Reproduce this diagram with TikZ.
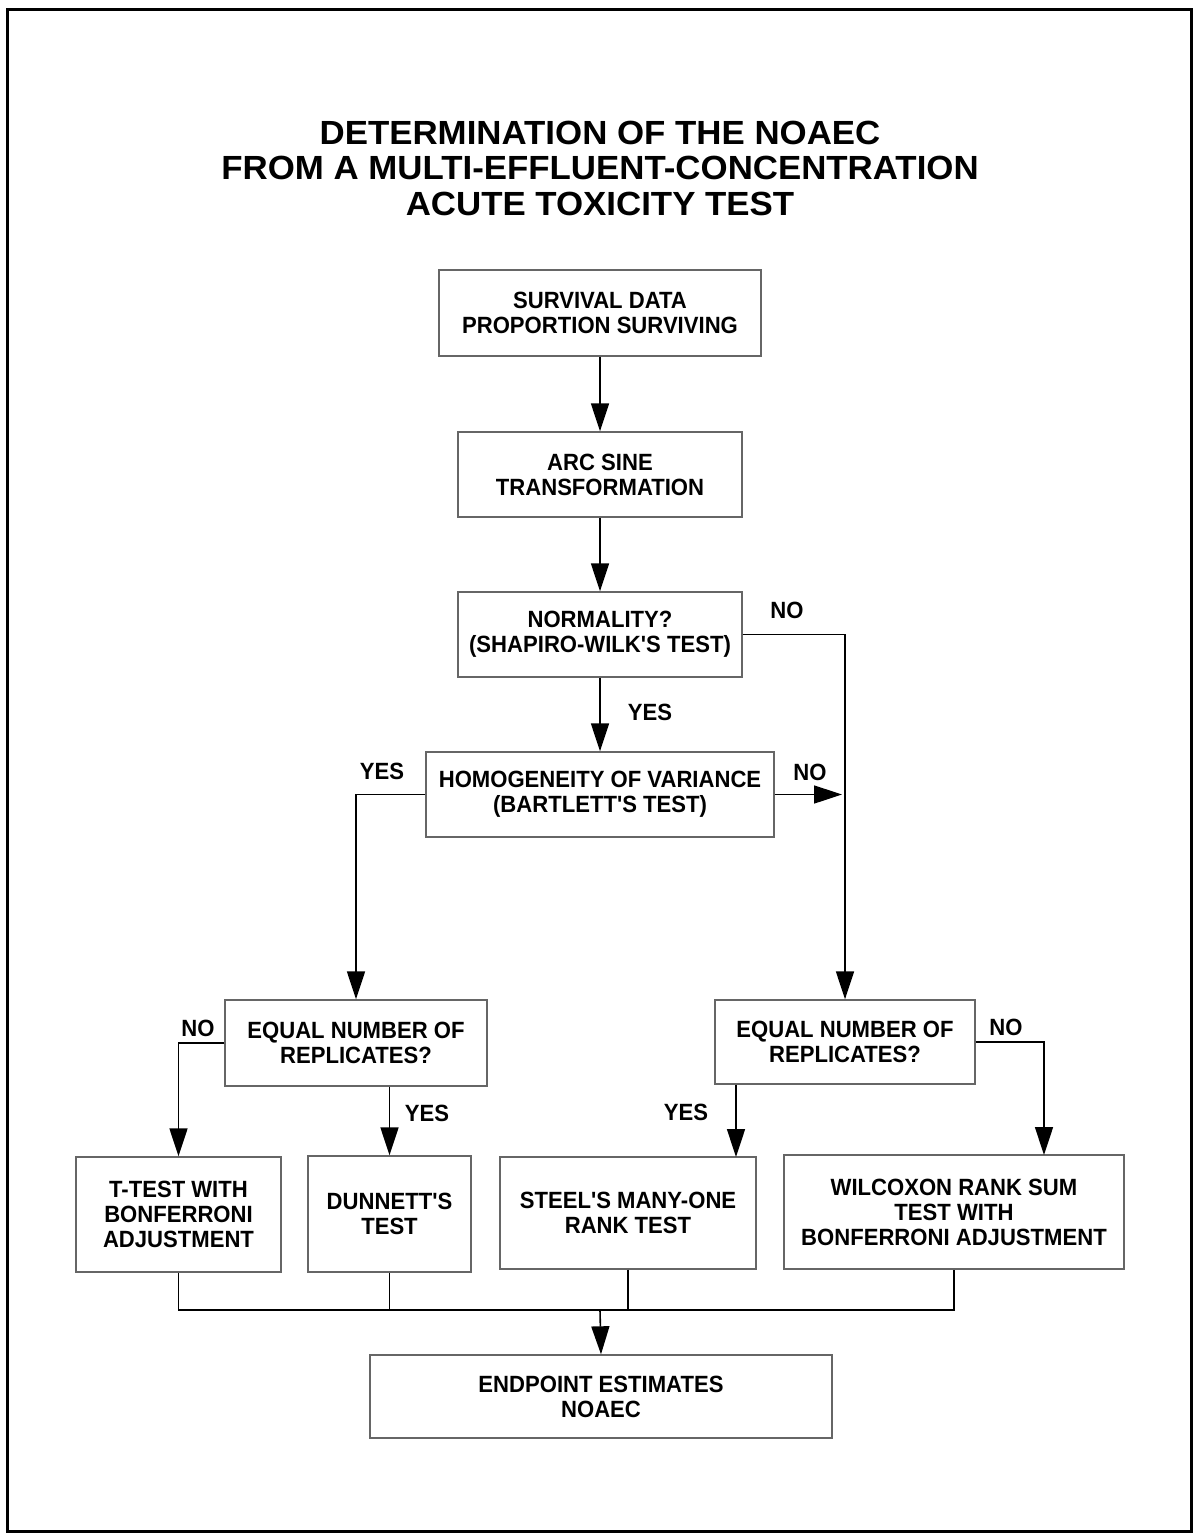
\documentclass[tikz,border=0pt]{standalone}
\usepackage{fontspec}
\newfontfamily\ttlfont{Liberation Sans Bold}[FakeStretch=1.04]
\newfontfamily\bxfont{Liberation Sans Bold}[FakeStretch=0.94]
\usetikzlibrary{arrows.meta}
\begin{document}
\begin{tikzpicture}[x=1pt,y=-1pt,
  every node/.style={inner sep=0pt},
  fbox/.style={draw=black!60, line width=1.4pt, align=center,
    font=\bxfont\fontsize{23.5}{25}\selectfont},
  lbl/.style={font=\bxfont\fontsize{23.5}{25}\selectfont},
  conn/.style={draw=black, line width=1.6pt},
  arr/.style={conn, -{Triangle[length=28pt,width=18pt]}},
  ttl/.style={align=center, font=\ttlfont\fontsize{33.5}{35.5}\selectfont}]
\useasboundingbox (0,0) rectangle (1193,1534);
\fill[white] (0,0) rectangle (1193,1534);
\draw[line width=3pt] (7,9) rectangle (1191,1531);

\node[ttl] (title) at (600,168) {DETERMINATION OF THE NOAEC\\FROM A MULTI-EFFLUENT-CONCENTRATION\\ACUTE TOXICITY TEST};

\node[fbox, minimum width=322pt, minimum height=86pt] (surv) at (600,313) {SURVIVAL DATA\\PROPORTION SURVIVING};
\node[fbox, minimum width=284pt, minimum height=85pt] (arc) at (600,474.5) {ARC SINE\\TRANSFORMATION};
\node[fbox, minimum width=284pt, minimum height=85pt] (norm) at (600,634.5) {NORMALITY?\\(SHAPIRO-WILK'S TEST)};
\node[fbox, minimum width=348pt, minimum height=85pt] (homog) at (600,794.5) {HOMOGENEITY OF VARIANCE\\(BARTLETT'S TEST)};
\node[fbox, minimum width=262pt, minimum height=86pt] (eqL) at (356,1043) {EQUAL NUMBER OF\\REPLICATES?};
\node[fbox, minimum width=260pt, minimum height=84pt] (eqR) at (845,1042) {EQUAL NUMBER OF\\REPLICATES?};
\node[fbox, minimum width=205pt, minimum height=115pt] (tt) at (178.5,1214.5) {T-TEST WITH\\BONFERRONI\\ADJUSTMENT};
\node[fbox, minimum width=163pt, minimum height=116pt] (dun) at (389.5,1214) {DUNNETT'S\\TEST};
\node[fbox, minimum width=256pt, minimum height=112pt] (steel) at (628,1213) {STEEL'S MANY-ONE\\RANK TEST};
\node[fbox, minimum width=340pt, minimum height=114pt] (wil) at (954,1212) {WILCOXON RANK SUM\\TEST WITH\\BONFERRONI ADJUSTMENT};
\node[fbox, minimum width=462pt, minimum height=83pt] (end) at (601,1396.5) {ENDPOINT ESTIMATES\\NOAEC};

\coordinate (hno) at (842,794.5);
\coordinate (sY) at (736,1157);
\coordinate (wY) at (1044,1155);
\coordinate (bus) at (600,1310);

\draw[arr] (surv.south) -- (arc.north);
\draw[arr] (arc.south) -- (norm.north);
\draw[arr] (norm.south) -- (homog.north);
\draw[arr] (norm.east) -| (eqR.north);
\draw[arr] (homog.east) -- (hno);
\draw[arr] (homog.west) -| (eqL.north);
\draw[arr] (eqL.west) -| (tt.north);
\draw[arr] (eqL.south -| dun.north) -- (dun.north);
\draw[arr] (eqR.south -| sY) -- (sY);
\draw[arr] (eqR.east) -| (wY);
\draw[conn] (tt.south) -- (tt.south |- bus) -- (wil.south |- bus) -- (wil.south);
\draw[conn] (dun.south) -- (dun.south |- bus);
\draw[conn] (steel.south) -- (steel.south |- bus);
\draw[arr] (bus) -- (end.north);

\node[lbl] (l1) at (650,712) {YES};
\node[lbl] (l2) at (787,610) {NO};
\node[lbl] (l3) at (810,772) {NO};
\node[lbl] (l4) at (382,771) {YES};
\node[lbl] (l5) at (198,1028) {NO};
\node[lbl] (l6) at (427,1113) {YES};
\node[lbl] (l7) at (686,1112) {YES};
\node[lbl] (l8) at (1006,1027) {NO};
\end{tikzpicture}
\end{document}
